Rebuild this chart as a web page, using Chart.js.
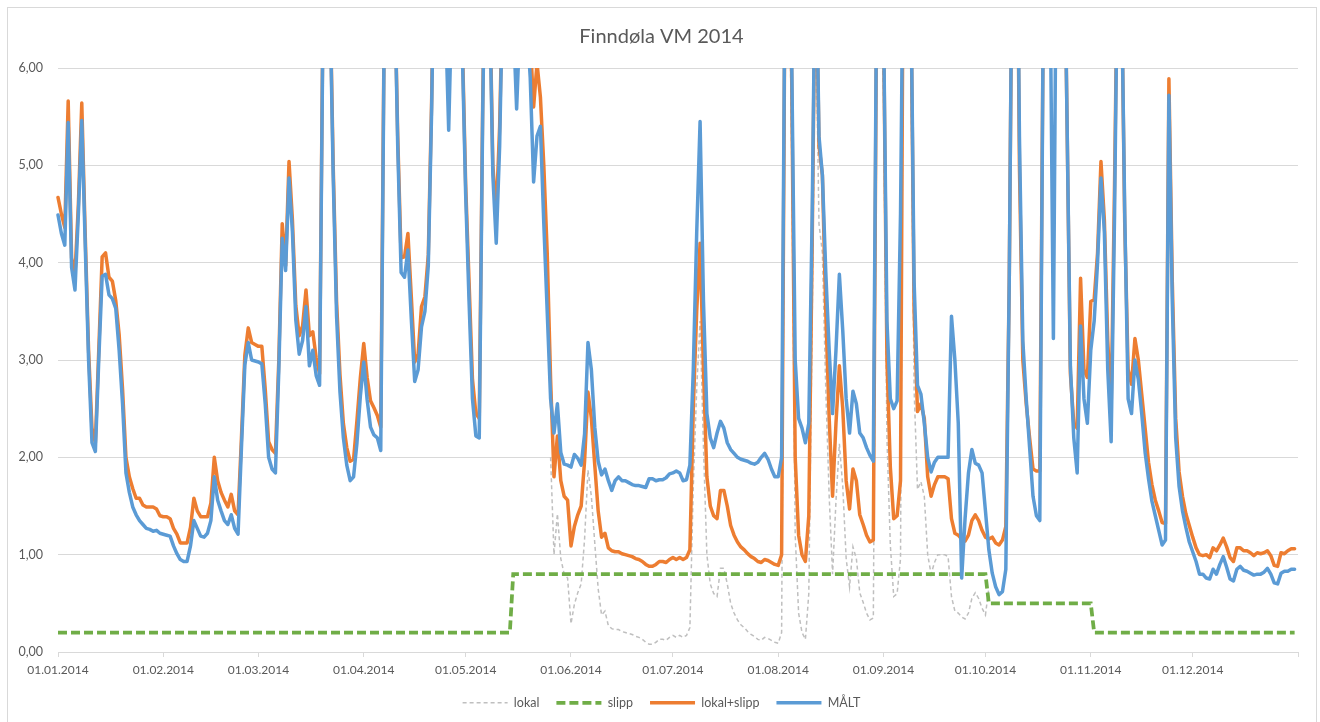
<!DOCTYPE html>
<html>
<head>
<meta charset="utf-8">
<script src="https://cdn.jsdelivr.net/npm/chart.js@4.4.1/dist/chart.umd.min.js"></script>
<style>
  html, body { margin: 0; padding: 0; background: #ffffff; }
  canvas { display: block; }
</style>
</head>
<body>
<canvas id="c" width="1320" height="722"></canvas>
<script>
// ---- DATA (day index 0 = 01.01.2014) ----
const chartTitle = 'Finndøla VM 2014';
const seriesNames = ['lokal', 'slipp', 'lokal+slipp', 'MÅLT'];
const tickDays = [0, 31, 59, 90, 120, 151, 181, 212, 243, 273, 304, 334, 365];
const tickLabels = ['01.01.2014', '01.02.2014', '01.03.2014', '01.04.2014', '01.05.2014', '01.06.2014',
  '01.07.2014', '01.08.2014', '01.09.2014', '01.10.2014', '01.11.2014', '01.12.2014', ''];

// MÅLT (measured), one value per day
const malt = [
  4.49,4.30,4.18,5.44,3.95,3.72,4.50,5.46,4.20,3.00,
  2.15,2.06,3.00,3.86,3.88,3.67,3.63,3.53,3.10,2.55,
  1.84,1.64,1.49,1.41,1.35,1.31,1.27,1.26,1.24,1.25,
  1.22,1.21,1.20,1.19,1.09,1.01,0.95,0.93,0.93,1.09,
  1.35,1.27,1.19,1.18,1.22,1.35,1.80,1.56,1.45,1.35,
  1.31,1.41,1.27,1.21,2.10,2.95,3.18,3.00,2.99,2.98,
  2.96,2.55,2.00,1.88,1.84,2.90,4.25,3.92,4.87,4.32,
  3.41,3.06,3.20,3.55,2.94,3.10,2.84,2.74,6.50,9.00,
  6.80,4.90,3.45,2.67,2.20,1.92,1.76,1.80,2.15,2.63,
  2.98,2.59,2.31,2.23,2.20,2.07,6.30,8.50,9.00,7.00,
  5.20,3.90,3.85,4.13,3.42,2.78,2.90,3.34,3.50,3.97,
  5.60,8.00,9.50,8.00,6.60,5.36,6.80,8.50,7.50,6.20,
  4.70,3.60,2.60,2.22,2.20,5.50,8.00,6.80,4.90,4.20,
  5.20,7.00,9.00,8.00,6.50,5.58,6.50,7.50,6.50,5.90,
  4.83,5.30,5.40,4.40,3.50,2.60,2.25,2.55,2.05,1.93,
  1.92,1.90,2.03,1.99,1.92,2.24,3.18,2.90,2.31,1.96,
  1.82,1.88,1.76,1.66,1.76,1.80,1.76,1.76,1.74,1.72,
  1.71,1.71,1.70,1.69,1.78,1.78,1.76,1.77,1.77,1.79,
  1.83,1.84,1.86,1.84,1.76,1.77,1.92,2.90,4.30,5.45,
  3.60,2.45,2.20,2.10,2.25,2.37,2.30,2.15,2.08,2.04,
  2.00,1.98,1.97,1.96,1.94,1.93,1.95,2.00,2.04,1.98,
  1.88,1.80,1.80,2.00,7.00,8.50,6.00,3.00,2.40,2.30,
  2.15,2.35,4.50,7.50,5.30,4.90,3.90,3.10,2.45,3.10,
  3.88,3.30,2.60,2.25,2.68,2.55,2.25,2.20,2.10,2.02,
  1.96,7.00,8.00,6.50,3.40,2.60,2.50,2.58,4.50,8.00,
  9.00,7.00,3.80,2.74,2.65,2.35,2.00,1.85,1.95,2.00,
  2.00,2.00,2.00,3.45,3.00,2.35,0.76,1.37,1.84,2.08,
  1.94,1.92,1.84,1.45,1.05,0.81,0.67,0.59,0.62,0.85,
  3.80,8.00,9.00,5.30,3.20,2.60,2.10,1.60,1.40,1.35,
  6.50,9.00,7.00,3.22,8.00,9.00,8.00,5.50,2.94,2.20,
  1.84,3.35,2.60,2.35,3.10,3.40,4.00,4.87,4.32,2.90,
  2.16,4.50,7.50,7.00,4.50,2.60,2.45,3.00,2.80,2.45,
  2.05,1.78,1.55,1.40,1.25,1.10,1.15,5.72,3.60,2.20,
  1.70,1.45,1.28,1.13,1.03,0.93,0.80,0.80,0.76,0.75,
  0.85,0.80,0.90,0.98,0.87,0.75,0.73,0.85,0.88,0.84,
  0.83,0.81,0.79,0.80,0.80,0.82,0.86,0.80,0.71,0.70,
  0.81,0.83,0.83,0.85,0.85
];

// lokal+slipp, one value per day
const lokalSlipp = [
  4.67,4.50,4.36,5.66,4.05,3.88,4.60,5.64,4.30,3.10,
  2.30,2.15,3.10,4.06,4.10,3.85,3.81,3.61,3.26,2.70,
  2.00,1.80,1.68,1.58,1.58,1.51,1.49,1.49,1.49,1.47,
  1.40,1.39,1.39,1.37,1.27,1.21,1.12,1.12,1.12,1.28,
  1.58,1.45,1.39,1.39,1.39,1.53,2.00,1.76,1.64,1.56,
  1.49,1.62,1.45,1.41,2.20,3.05,3.33,3.18,3.16,3.14,
  3.14,2.70,2.16,2.08,2.04,3.00,4.40,3.97,5.04,4.44,
  3.56,3.25,3.35,3.72,3.25,3.29,3.02,2.86,6.60,9.00,
  6.90,5.00,3.60,2.85,2.35,2.10,1.96,1.98,2.38,2.82,
  3.17,2.82,2.58,2.51,2.43,2.31,6.40,8.50,9.00,7.00,
  5.30,4.05,4.06,4.30,3.65,2.98,3.06,3.55,3.65,4.08,
  5.70,8.00,9.50,8.00,6.70,5.85,6.90,8.50,7.50,6.30,
  4.80,3.80,2.80,2.45,2.40,5.60,8.00,6.90,5.00,4.50,
  5.40,7.00,9.00,8.00,6.60,6.10,6.80,7.80,7.00,6.30,
  5.60,6.05,5.70,5.00,4.10,2.80,1.80,2.22,1.76,1.60,
  1.56,1.09,1.29,1.41,1.50,1.96,2.67,2.40,1.92,1.45,
  1.18,1.22,1.07,1.04,1.03,1.03,1.01,1.00,0.99,0.98,
  0.96,0.95,0.93,0.90,0.88,0.88,0.90,0.93,0.93,0.92,
  0.95,0.97,0.95,0.97,0.95,0.97,1.05,2.50,3.50,4.20,
  2.90,1.80,1.50,1.40,1.37,1.66,1.66,1.50,1.30,1.20,
  1.13,1.08,1.05,1.01,0.98,0.96,0.93,0.92,0.95,0.94,
  0.92,0.90,0.89,1.00,7.00,8.50,5.80,2.00,1.20,1.00,
  0.93,1.40,4.20,7.50,5.20,4.90,3.50,2.40,1.60,2.35,
  2.94,2.50,1.76,1.47,1.88,1.76,1.41,1.31,1.20,1.13,
  1.15,7.00,8.00,6.50,3.00,1.90,1.37,1.40,1.76,9.00,
  9.00,7.00,3.50,2.47,2.55,2.40,1.80,1.60,1.72,1.80,
  1.80,1.80,1.78,1.37,1.22,1.20,1.16,1.14,1.20,1.35,
  1.41,1.35,1.25,1.18,1.16,1.18,1.12,1.10,1.15,1.29,
  3.80,8.00,9.00,5.00,3.00,2.55,2.20,1.88,1.86,1.86,
  6.50,9.00,7.00,6.20,8.00,9.00,8.00,5.50,2.86,2.35,
  2.30,3.84,2.90,2.82,3.60,3.62,4.10,5.04,4.44,3.20,
  2.50,4.80,7.50,7.00,4.40,2.90,2.75,3.22,3.00,2.65,
  2.30,1.95,1.72,1.56,1.45,1.33,1.32,5.89,3.80,2.40,
  1.85,1.60,1.42,1.30,1.18,1.07,1.00,0.99,1.00,0.97,
  1.07,1.04,1.10,1.17,1.08,0.97,0.93,1.07,1.07,1.04,
  1.04,1.02,0.99,1.02,1.01,1.02,1.04,0.99,0.89,0.88,
  1.02,1.01,1.04,1.06,1.06
];

// lokal, daily values from day 145 (26.05) to day 274 (02.10)
const lokalFirstDay = 145;
const lokal = [
  2.00,1.00,1.42,0.96,0.80,
  0.76,0.29,0.49,0.61,0.70,1.16,1.87,1.60,1.12,0.65,
  0.38,0.42,0.27,0.24,0.23,0.23,0.21,0.20,0.19,0.18,
  0.16,0.15,0.13,0.10,0.08,0.08,0.10,0.13,0.13,0.12,
  0.15,0.17,0.15,0.17,0.15,0.17,0.25,1.70,2.70,3.40,
  2.10,1.00,0.70,0.60,0.57,0.86,0.86,0.70,0.50,0.40,
  0.33,0.28,0.25,0.21,0.18,0.16,0.13,0.12,0.15,0.14,
  0.12,0.10,0.09,0.20,6.20,7.70,5.00,1.20,0.40,0.20,
  0.13,0.60,3.40,6.70,4.40,4.10,2.70,1.60,0.80,1.55,
  2.14,1.70,0.96,0.67,1.08,0.96,0.61,0.51,0.40,0.33,
  0.35,6.20,7.20,5.70,2.20,1.10,0.57,0.60,0.96,8.20,
  8.20,6.20,2.70,1.67,1.75,1.60,1.00,0.80,0.92,1.00,
  1.00,1.00,0.98,0.57,0.42,0.40,0.36,0.34,0.40,0.55,
  0.61,0.55,0.45,0.38,0.66
];

// slipp: step series (day, value) at each change
const slippDays   = [0,   133, 134, 273, 274, 304, 305, 364];
const slippValues = [0.2, 0.2, 0.8, 0.8, 0.5, 0.5, 0.2, 0.2];

// ---- build datasets ----
const toPoints = (arr, first) => arr.map((v, i) => ({ x: first + i, y: v }));
const FONT = 'Lato, "Open Sans", "Liberation Sans", sans-serif';
const TXT = '#595959';
const GRID = '#D9D9D9';

const frame = {
  id: 'frame',
  beforeDraw(chart) {
    const ctx = chart.ctx;
    ctx.save();
    ctx.fillStyle = '#ffffff';
    ctx.fillRect(0, 0, chart.width, chart.height);
    ctx.strokeStyle = '#D9D9D9';
    ctx.lineWidth = 1;
    ctx.strokeRect(7.5, 7.5, 1309, 720);
    ctx.restore();
  }
};

const lineClip = { left: 4, right: 4, top: 0, bottom: 4 };

new Chart(document.getElementById('c'), {
  type: 'line',
  data: {
    datasets: [
      {
        label: seriesNames[0], data: toPoints(lokal, lokalFirstDay),
        borderColor: '#BFBFBF', backgroundColor: '#BFBFBF', borderWidth: 1.5, borderDash: [4, 3],
        pointRadius: 0, tension: 0, order: 4, clip: lineClip
      },
      {
        label: seriesNames[1], data: slippDays.map((d, i) => ({ x: d, y: slippValues[i] })),
        borderColor: '#70AD47', backgroundColor: '#70AD47', borderWidth: 3.75, borderDash: [9, 4],
        pointRadius: 0, tension: 0, order: 3, clip: lineClip
      },
      {
        label: seriesNames[2], data: toPoints(lokalSlipp, 0),
        borderColor: '#ED7D31', backgroundColor: '#ED7D31', borderWidth: 3.5,
        borderJoinStyle: 'round', borderCapStyle: 'round',
        pointRadius: 0, tension: 0, order: 2, clip: lineClip
      },
      {
        label: seriesNames[3], data: toPoints(malt, 0),
        borderColor: '#5B9BD5', backgroundColor: '#5B9BD5', borderWidth: 3.5,
        borderJoinStyle: 'round', borderCapStyle: 'round',
        pointRadius: 0, tension: 0, order: 1, clip: lineClip
      }
    ]
  },
  options: {
    responsive: false,
    animation: false,
    devicePixelRatio: 1,
    layout: { padding: { left: 3, right: 0, top: 0, bottom: 3 } },
    plugins: {
      title: {
        display: true, text: chartTitle, color: TXT,
        font: { family: FONT, size: 20, weight: 'normal' },
        padding: { top: 25, bottom: 19 }
      },
      legend: {
        position: 'bottom',
        labels: {
          usePointStyle: true, pointStyle: 'line', pointStyleWidth: 45,
          color: TXT, font: { family: FONT, size: 12.5 }, padding: 17,
          sort: (a, b) => a.datasetIndex - b.datasetIndex,
          generateLabels: (chart) => {
            const items = Chart.defaults.plugins.legend.labels.generateLabels(chart);
            items.forEach(it => {
              const ds = chart.data.datasets[it.datasetIndex];
              it.lineDash = ds.borderDash || [];
              it.lineWidth = ds.borderWidth;
              it.strokeStyle = ds.borderColor;
              it.fillStyle = ds.borderColor;
              it.lineCap = 'butt';
            });
            return items;
          }
        }
      },
      tooltip: { enabled: false }
    },
    scales: {
      x: {
        type: 'linear', min: 0, max: 365,
        afterBuildTicks: (scale) => { scale.ticks = tickDays.map(v => ({ value: v })); },
        afterFit: (scale) => { scale.height = 27.5; },
        ticks: {
          autoSkip: false, maxRotation: 0, minRotation: 0, padding: 6,
          color: TXT, font: { family: FONT, size: 12 },
          callback: (v) => { const i = tickDays.indexOf(v); return i >= 0 ? tickLabels[i] : ''; }
        },
        grid: { drawOnChartArea: false, drawTicks: true, tickLength: 5, color: GRID },
        border: { display: true, color: GRID }
      },
      y: {
        min: 0, max: 6,
        afterFit: (scale) => { scale.width = 55; },
        ticks: {
          stepSize: 1, padding: 15, color: TXT, font: { family: FONT, size: 12.5 },
          callback: (v) => v.toFixed(2).replace('.', ',')
        },
        grid: { color: GRID, drawTicks: false },
        border: { display: false }
      },
      yRight: {
        type: 'linear', position: 'right', display: true,
        afterFit: (scale) => { scale.width = 22; },
        ticks: { display: false },
        grid: { display: false, drawTicks: false },
        border: { display: false }
      }
    }
  },
  plugins: [frame]
});
</script>
</body>
</html>
